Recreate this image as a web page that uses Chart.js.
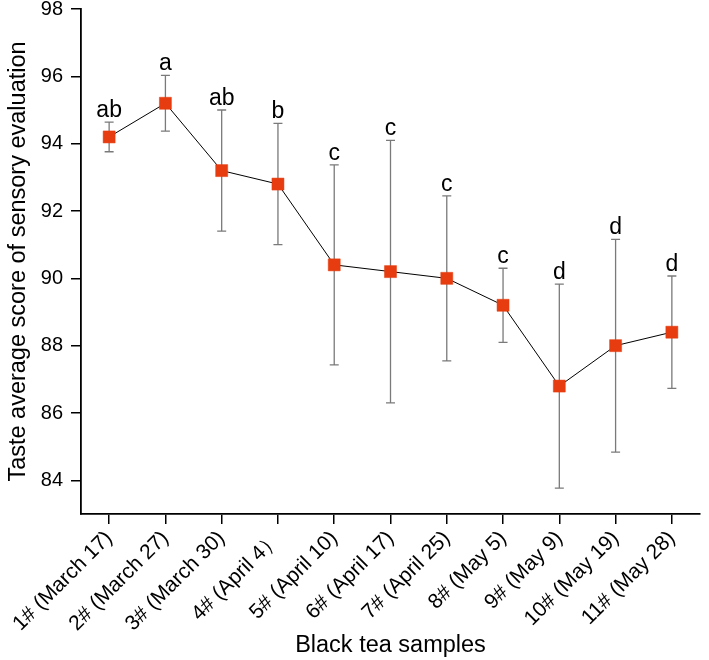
<!DOCTYPE html>
<html>
<head>
<meta charset="utf-8">
<title>Taste score of black tea samples</title>
<script src="https://cdn.jsdelivr.net/npm/chart.js@4"></script>
<style>
    html, body { margin: 0; padding: 0; background: #ffffff; }
    #wrap { width: 709px; height: 660px; position: relative; }
</style>
</head>
<body>
<div id="wrap"><canvas id="taste-chart"></canvas></div>
<script>
// Data
const samples = ['1# (March 17)', '2# (March 27)', '3# (March 30)', '4# (April 4\uFF09', '5# (April 10)',
    '6# (April 17)', '7# (April 25)', '8# (May 5)', '9# (May 9)', '10# (May 19)', '11# (May 28)'];
const tasteMeans = [94.2, 95.2, 93.2, 92.8, 90.4, 90.2, 90.0, 89.2, 86.8, 88.0, 88.4];
const tasteSD = [0.44, 0.83, 1.8, 1.8, 2.97, 3.9, 2.45, 1.1, 3.03, 3.16, 1.67];
const sigLetters = ['ab', 'a', 'ab', 'b', 'c', 'c', 'c', 'c', 'd', 'd', 'd'];
const yTicks = [84, 86, 88, 90, 92, 94, 96, 98];

const FONT = '"Liberation Sans", Arial, sans-serif';
const MARKER = '#e63c0f';

// Error bars (under the markers) and significance letters
const errorBarPlugin = {
    id: 'errorBars',
    beforeDatasetsDraw(chart) {
        const ctx = chart.ctx;
        const x = chart.scales.x;
        const y = chart.scales.y;
        ctx.save();
        ctx.strokeStyle = '#7a7a7a';
        ctx.lineWidth = 1.3;
        tasteMeans.forEach((m, i) => {
            const px = x.getPixelForValue(i);
            const top = y.getPixelForValue(m + tasteSD[i]);
            const bot = y.getPixelForValue(m - tasteSD[i]);
            ctx.beginPath();
            ctx.moveTo(px, top); ctx.lineTo(px, bot);
            ctx.moveTo(px - 4.5, top); ctx.lineTo(px + 4.5, top);
            ctx.moveTo(px - 4.5, bot); ctx.lineTo(px + 4.5, bot);
            ctx.stroke();
        });
        ctx.restore();
    },
    afterDatasetsDraw(chart) {
        const ctx = chart.ctx;
        const x = chart.scales.x;
        const y = chart.scales.y;
        ctx.save();
        ctx.fillStyle = '#000000';
        ctx.font = '23px ' + FONT;
        ctx.textAlign = 'center';
        ctx.textBaseline = 'alphabetic';
        sigLetters.forEach((s, i) => {
            const px = x.getPixelForValue(i);
            const top = y.getPixelForValue(tasteMeans[i] + tasteSD[i]);
            ctx.fillText(s, px, top - 5);
        });
        ctx.restore();
    }
};

const ctx = document.getElementById('taste-chart').getContext('2d');

const tasteChart = new Chart(ctx, {
    type: 'line',
    data: {
        labels: samples,
        datasets: [{
            data: tasteMeans,
            borderColor: '#000000',
            borderWidth: 1,
            tension: 0,
            fill: false,
            pointStyle: 'rect',
            pointRadius: 8.5,
            pointBackgroundColor: MARKER,
            pointBorderColor: MARKER,
            pointBorderWidth: 0.5
        }]
    },
    options: {
        responsive: true,
        maintainAspectRatio: false,
        animation: false,
        layout: { padding: { top: 0, right: 0, bottom: 0, left: 0 } },
        plugins: {
            legend: { display: false },
            tooltip: { enabled: false }
        },
        scales: {
            x: {
                offset: true,
                border: { display: true, color: '#000000', width: 1.8 },
                grid: {
                    offset: false,
                    drawOnChartArea: false,
                    drawTicks: true,
                    tickLength: 10,
                    color: '#000000',
                    lineWidth: 1.5
                },
                ticks: {
                    color: '#000000',
                    font: { family: FONT, size: 21 },
                    maxRotation: 45,
                    minRotation: 45,
                    padding: 2,
                    autoSkip: false
                },
                title: {
                    display: true,
                    text: 'Black tea samples',
                    color: '#000000',
                    font: { family: FONT, size: 23.5 },
                    padding: { top: 4, bottom: 0 }
                },
                afterFit(scale) {
                    scale.height = 146;
                    scale.paddingLeft = 0;
                    scale.paddingRight = 0;
                }
            },
            y: {
                min: 83,
                max: 98,
                border: { display: true, color: '#000000', width: 1.8 },
                grid: {
                    drawOnChartArea: false,
                    drawTicks: true,
                    tickLength: 10,
                    color: '#000000',
                    lineWidth: 1.5
                },
                ticks: {
                    color: '#000000',
                    font: { family: FONT, size: 20 },
                    padding: 8
                },
                afterBuildTicks(scale) {
                    scale.ticks = yTicks.map(v => ({ value: v }));
                },
                title: {
                    display: true,
                    text: 'Taste average score of sensory evaluation',
                    color: '#000000',
                    font: { family: FONT, size: 23.5 },
                    padding: { top: 4, bottom: 0 }
                },
                afterFit(scale) {
                    scale.width = 81;
                    scale.paddingTop = 9;
                    scale.paddingBottom = 0;
                }
            }
        }
    },
    plugins: [errorBarPlugin]
});
</script>
</body>
</html>
